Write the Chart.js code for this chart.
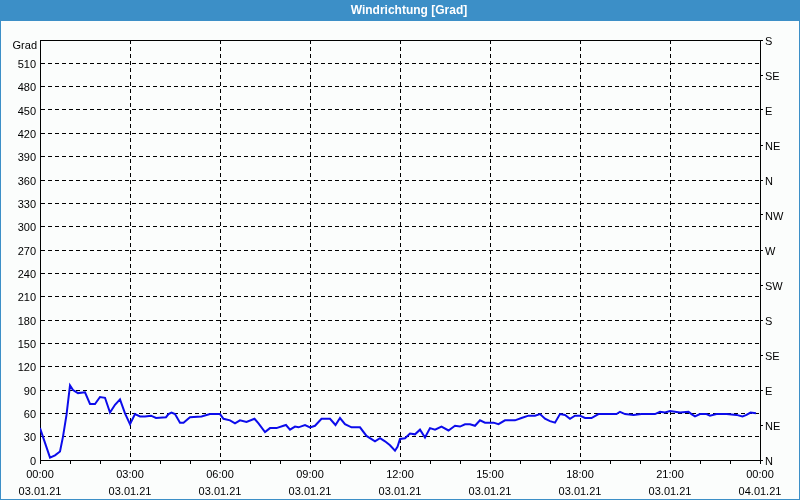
<!DOCTYPE html>
<html>
<head>
<meta charset="utf-8">
<script src="https://cdn.jsdelivr.net/npm/chart.js@4/dist/chart.umd.min.js"></script>
<style>
html,body{margin:0;padding:0;background:#fbfdfc;}
canvas{display:block;}
</style>
</head>
<body>
<canvas id="c" width="800" height="500"></canvas>
<script>
// Data: minutes since 03.01.21 00:00 and wind direction in degrees
const minutes = [0,20,30,40,46,53,60,66,76,90,100,110,120,130,140,150,160,170,180,190,200,210,222,232,252,257,263,270,280,287,300,323,340,360,367,380,390,400,413,429,437,450,460,473,487,492,500,510,517,530,540,550,563,580,591,600,610,623,640,653,670,680,690,700,710,715,720,730,740,750,760,770,780,790,803,817,830,840,850,860,870,880,890,907,917,930,950,963,977,990,1000,1010,1020,1030,1040,1050,1060,1070,1080,1090,1103,1117,1130,1153,1160,1170,1187,1203,1230,1240,1250,1260,1280,1297,1303,1310,1320,1333,1340,1353,1373,1393,1405,1413,1421,1432];
const degrees = [41,3,6,11,30,58,96,90,86,87,72,72,81,80,61,71,78,60,46,59,56,56,57,54,55,59,61,59,48,48,55,56,59,59,53,51,47,51,49,53,47,36,41,41,44,45,39,43,42,45,42,44,53,53,45,54,46,42,42,31,24,28,24,19,12,17,27,28,34,33,39,29,41,39,43,38,44,43,46,46,44,51,48,48,46,51,51,54,57,57,59,53,50,48,59,58,53,57,57,54,54,59,59,59,62,59,58,59,59,62,61,63,61,62,59,56,59,59,57,59,59,58,56,58,61,60];
const timeLabels = ['00:00','03:00','06:00','09:00','12:00','15:00','18:00','21:00','00:00'];
const dateLabels = ['03.01.21','03.01.21','03.01.21','03.01.21','03.01.21','03.01.21','03.01.21','03.01.21','04.01.21'];
const compassLabels = ['N','NE','E','SE','S','SW','W','NW','N','NE','E','SE','S'];
const titleText = 'Windrichtung [Grad]';
const unitText = 'Grad';

const points = minutes.map((m, i) => ({x: m, y: degrees[i]}));
const tickFont = {family: '"Liberation Sans", Arial, sans-serif', size: 11};
const BLUE = '#3c8fc7';

const framePlugin = {
  id: 'frame',
  beforeDraw(chart) {
    const ctx = chart.ctx;
    ctx.save();
    ctx.fillStyle = '#fbfdfc';
    ctx.fillRect(0, 0, chart.width, chart.height);
    ctx.fillStyle = BLUE;
    ctx.fillRect(0, 0, chart.width, 21);
    ctx.fillStyle = '#ffffff';
    ctx.font = 'bold 12px "Liberation Sans", Arial, sans-serif';
    ctx.textAlign = 'center';
    ctx.textBaseline = 'middle';
    ctx.fillText(titleText, 409, 11);
    ctx.strokeStyle = BLUE;
    ctx.lineWidth = 1;
    ctx.strokeRect(0.5, 0.5, chart.width - 1, chart.height - 1);
    ctx.restore();
  },
  afterDraw(chart) {
    const ctx = chart.ctx;
    const a = chart.chartArea;
    ctx.save();
    ctx.strokeStyle = '#000';
    ctx.lineWidth = 1;
    ctx.beginPath();
    ctx.moveTo(a.left, a.top + 0.5);
    ctx.lineTo(a.right, a.top + 0.5);
    ctx.stroke();
    ctx.fillStyle = '#000';
    ctx.font = '11px "Liberation Sans", Arial, sans-serif';
    ctx.textAlign = 'right';
    ctx.textBaseline = 'middle';
    ctx.fillText(unitText, a.left - 3, a.top + 6);
    ctx.restore();
  }
};

new Chart(document.getElementById('c'), {
  type: 'line',
  data: {
    datasets: [{
      data: points,
      borderColor: '#0c0ceb',
      borderWidth: 2,
      pointRadius: 0,
      tension: 0,
      fill: false,
      yAxisID: 'y'
    }]
  },
  options: {
    responsive: false,
    animation: false,
    devicePixelRatio: 1,
    layout: {padding: {top: 40, left: 0, right: 0, bottom: 0}},
    plugins: {legend: {display: false}, tooltip: {enabled: false}, title: {display: false}},
    scales: {
      x: {
        type: 'linear',
        position: 'bottom',
        min: 0, max: 1440,
        afterFit(s) { s.height = 40; },
        afterBuildTicks(s) {
          const t = [];
          for (let v = 0; v <= 1440; v += 60) t.push({value: v});
          s.ticks = t;
        },
        ticks: {
          autoSkip: false,
          maxRotation: 0,
          padding: 3,
          color: '#000',
          font: Object.assign({lineHeight: 1.5}, tickFont),
          callback(v) {
            if (v % 180 !== 0) return '';
            const i = v / 180;
            return [timeLabels[i], dateLabels[i]];
          }
        },
        grid: {
          color: c => (c.tick && c.tick.value % 180 === 0 && c.tick.value > 0 && c.tick.value < 1440) ? '#000' : 'rgba(0,0,0,0)',
          tickColor: '#000',
          tickLength: 4,
          drawTicks: true
        },
        border: {display: true, color: '#000', width: 1, dash: [4, 3]}
      },
      y: {
        type: 'linear',
        position: 'left',
        min: 0, max: 540,
        afterFit(s) { s.width = 40; },
        ticks: {
          stepSize: 30,
          padding: 4,
          labelOffset: 1.5,
          color: '#000',
          font: tickFont,
          callback(v) { return v === 540 ? '' : String(v); }
        },
        grid: {
          color: c => (c.tick && c.tick.value > 0 && c.tick.value < 540) ? '#000' : 'rgba(0,0,0,0)',
          drawTicks: false
        },
        border: {display: true, color: '#000', width: 1, dash: [4, 3]}
      },
      y2: {
        type: 'linear',
        position: 'right',
        min: 0, max: 540,
        afterFit(s) { s.width = 40; },
        afterBuildTicks(s) {
          s.ticks = compassLabels.map((_, i) => ({value: i * 45}));
        },
        ticks: {
          autoSkip: false,
          padding: 2,
          labelOffset: 2,
          color: '#000',
          font: tickFont,
          callback(v) { return compassLabels[Math.round(v / 45)]; }
        },
        grid: {
          drawOnChartArea: false,
          tickColor: '#000',
          tickLength: 3
        },
        border: {display: true, color: '#000', width: 1}
      }
    }
  },
  plugins: [framePlugin]
});
</script>
</body>
</html>
